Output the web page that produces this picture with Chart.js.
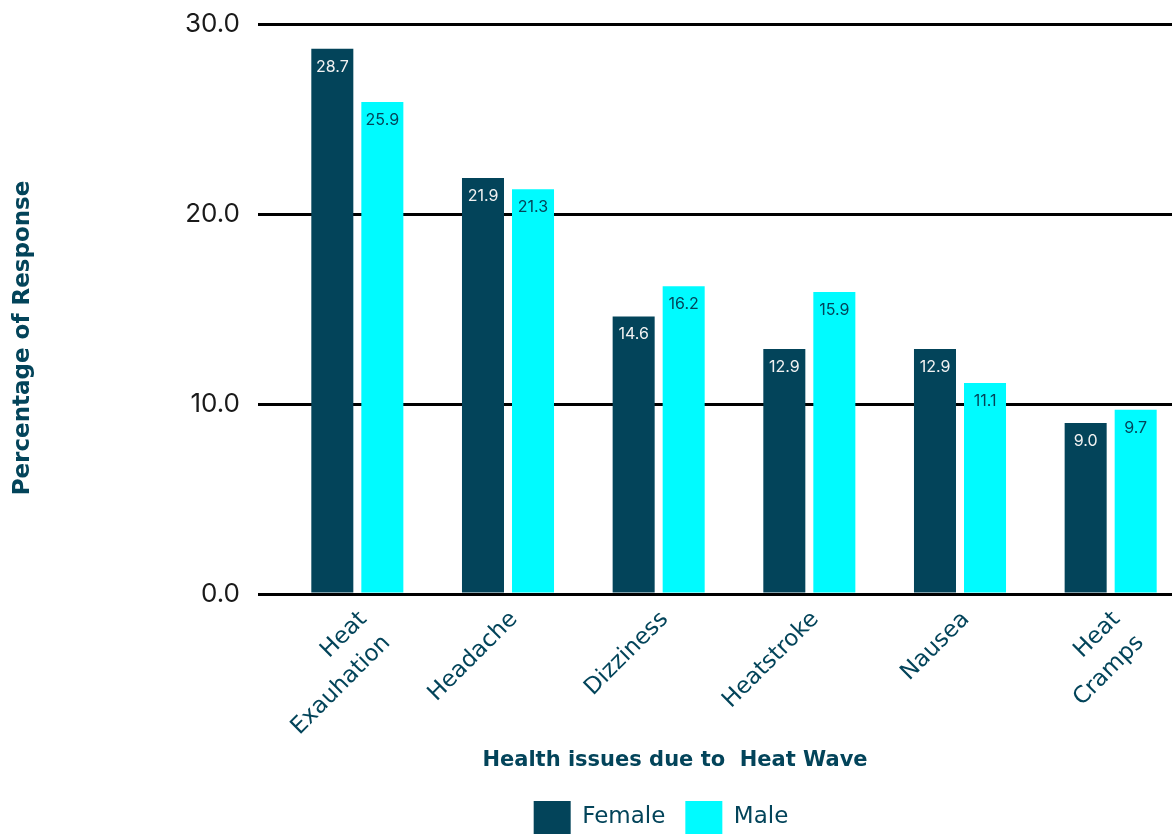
<!DOCTYPE html>
<html>
<head>
<meta charset="utf-8">
<script src="https://cdn.jsdelivr.net/npm/chart.js@4.4.1/dist/chart.umd.min.js"></script>
<style>
  html, body { margin: 0; padding: 0; background: #ffffff; overflow: hidden; }
  #wrap { width: 1172px; height: 834px; overflow: hidden; }
  canvas { display: block; }
</style>
</head>
<body>
<div id="wrap"><canvas id="c" width="1186" height="834"></canvas></div>
<script>
// Health issues reported during heat waves, % of responses by gender
const categories = [['Heat', 'Exauhation'], 'Headache', 'Dizziness', 'Heatstroke', 'Nausea', ['Heat', 'Cramps']];
const female = [28.7, 21.9, 14.6, 12.9, 12.9, 9.0];
const male = [25.9, 21.3, 16.2, 15.9, 11.1, 9.7];
const seriesNames = ['Female', 'Male'];
const yMin = 0;
const yMax = 30;
const yStep = 10;
const xTitle = 'Health issues due to  Heat Wave';
const yTitle = 'Percentage of Response';

const DARK = '#03445a';
const CYAN = '#00fbff';
const NUM_FONT = 'Inter, "Open Sans", sans-serif';
const TEXT_FONT = '"DejaVu Sans", "Open Sans", sans-serif';

// value labels printed just inside the top of each bar
const valueLabels = {
  id: 'valueLabels',
  afterDatasetsDraw(chart) {
    const ctx = chart.ctx;
    ctx.save();
    ctx.font = '16px ' + NUM_FONT;
    ctx.textAlign = 'center';
    ctx.textBaseline = 'middle';
    chart.data.datasets.forEach((ds, di) => {
      const meta = chart.getDatasetMeta(di);
      ctx.fillStyle = ds.labelColor;
      meta.data.forEach((bar, i) => {
        ctx.fillText(ds.data[i].toFixed(1), bar.x, bar.y + 18);
      });
    });
    ctx.restore();
  }
};

// axis titles
const axisTitles = {
  id: 'axisTitles',
  afterDraw(chart) {
    const ctx = chart.ctx;
    ctx.save();
    ctx.fillStyle = DARK;
    ctx.textAlign = 'center';
    ctx.textBaseline = 'middle';
    ctx.font = 'bold 21px ' + TEXT_FONT;
    ctx.fillText(xTitle, 675, 761);
    ctx.translate(23, 338);
    ctx.rotate(-Math.PI / 2);
    ctx.font = 'bold 23px ' + TEXT_FONT;
    ctx.fillText(yTitle, 0, 0);
    ctx.restore();
  }
};

new Chart(document.getElementById('c'), {
  type: 'bar',
  data: {
    labels: categories,
    datasets: [
      { label: seriesNames[0], data: female, backgroundColor: DARK, labelColor: '#f2f2f2' },
      { label: seriesNames[1], data: male, backgroundColor: CYAN, labelColor: DARK }
    ]
  },
  options: {
    responsive: false,
    animation: false,
    devicePixelRatio: 1,
    categoryPercentage: 0.664,
    barPercentage: 0.84,
    layout: { padding: { left: 136, top: 24, right: 0, bottom: 0 } },
    plugins: {
      tooltip: { enabled: false },
      legend: {
        position: 'bottom',
        maxHeight: 53,
        labels: {
          boxWidth: 37,
          boxHeight: 33,
          padding: 20,
          color: DARK,
          font: { family: TEXT_FONT, size: 23 }
        }
      }
    },
    scales: {
      x: {
        grid: { display: false, drawTicks: false },
        border: { display: false },
        ticks: {
          color: DARK,
          font: { family: TEXT_FONT, size: 23, lineHeight: 1.45 },
          minRotation: 45,
          maxRotation: 45,
          padding: 10,
          labelOffset: 6
        },
        afterFit(scale) { scale.height = 187; }
      },
      y: {
        min: yMin,
        max: yMax,
        grid: { color: '#000000', lineWidth: 3, drawTicks: true, tickLength: 24, tickColor: '#000000' },
        border: { display: false },
        ticks: {
          stepSize: yStep,
          color: '#1a1a1a',
          padding: 18,
          font: { family: NUM_FONT, size: 26 },
          callback: (v) => Number(v).toFixed(1)
        },
        afterFit(scale) {
          scale.width = 146;
          scale.paddingTop = 0;
        }
      }
    }
  },
  plugins: [valueLabels, axisTitles]
});
</script>
</body>
</html>
